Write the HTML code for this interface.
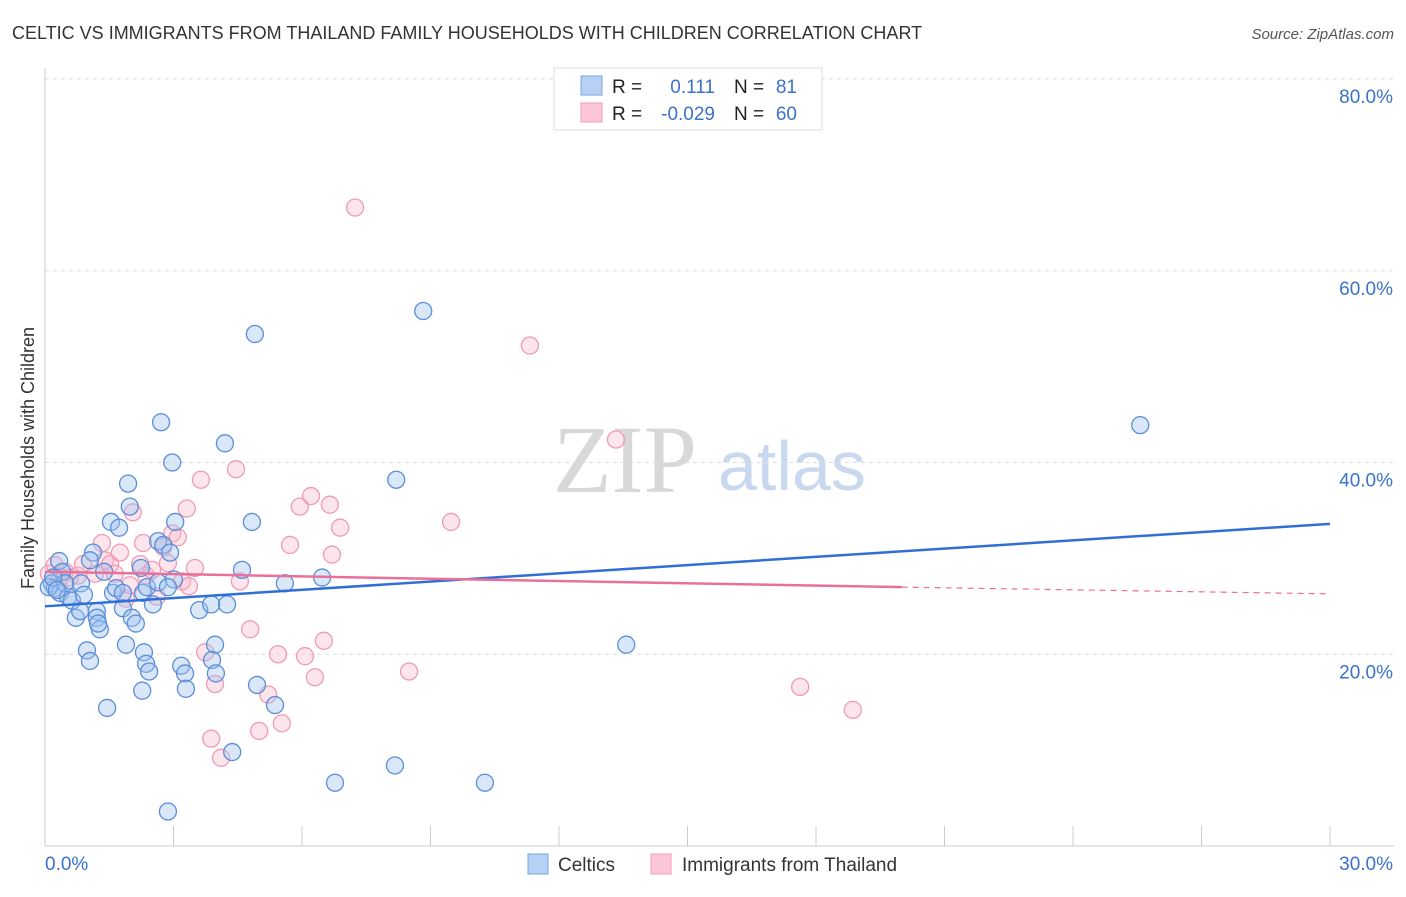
<!DOCTYPE html>
<html><head><meta charset="utf-8"><style>
body{margin:0;background:#fff;font-family:"Liberation Sans",sans-serif}
svg text{font-family:"Liberation Sans",sans-serif}
</style></head><body>
<svg id="chart" width="1406" height="892" xmlns="http://www.w3.org/2000/svg">
<text x="12" y="39" font-size="18" fill="#333">CELTIC VS IMMIGRANTS FROM THAILAND FAMILY HOUSEHOLDS WITH CHILDREN CORRELATION CHART</text>
<text x="1394" y="39" font-size="15" fill="#555" font-style="italic" text-anchor="end">Source: ZipAtlas.com</text>
<text x="34" y="458" font-size="18" fill="#333" transform="rotate(-90 34 458)" text-anchor="middle">Family Households with Children</text>
<g>
<text x="553" y="492" font-size="96" fill="#d8d8d8" font-family="Liberation Serif" style="font-family:'Liberation Serif',serif">ZIP</text>
<text x="718" y="490" font-size="70" fill="#c8d8ee">atlas</text>
</g>
<g id="grid"></g>
<g id="marks"></g>
<g>
<rect x="554" y="68" width="268" height="62" fill="#fff" stroke="#ddd"/>
<rect x="581" y="76" width="21" height="19" fill="#b7d0f4" stroke="#7aa6e6"/>
<rect x="581" y="103" width="21" height="19" fill="#fcc8d8" stroke="#f29bb8"/>
<text x="612" y="93" font-size="19" fill="#222">R =</text>
<text x="715" y="93" font-size="19" fill="#3a72cc" text-anchor="end">0.111</text>
<text x="734" y="93" font-size="19" fill="#222">N =</text>
<text x="797" y="93" font-size="19" fill="#3a72cc" text-anchor="end">81</text>
<text x="612" y="120" font-size="19" fill="#222">R =</text>
<text x="715" y="120" font-size="19" fill="#3a72cc" text-anchor="end">-0.029</text>
<text x="734" y="120" font-size="19" fill="#222">N =</text>
<text x="797" y="120" font-size="19" fill="#3a72cc" text-anchor="end">60</text>
</g>
<g>
<rect x="528" y="854" width="20" height="20" fill="#b7d0f4" stroke="#7aa6e6"/>
<text x="558" y="871" font-size="19" fill="#333">Celtics</text>
<rect x="651" y="854" width="20" height="20" fill="#fcc8d8" stroke="#f29bb8"/>
<text x="682" y="871" font-size="19" fill="#333">Immigrants from Thailand</text>
</g>
</svg>
<script>
const blueX=[.33,.40,.16,.23,.35,.54,.63,.47,.84,.91,.72,.82,1.12,1.05,.98,1.05,1.21,1.21,1.28,1.24,1.38,1.45,1.54,1.73,1.59,1.66,1.82,1.82,1.89,1.94,1.98,2.03,2.12,2.24,2.29,2.27,2.31,2.36,2.43,2.38,2.52,2.64,2.64,2.71,2.76,2.97,2.92,3.04,3.01,2.87,2.87,3.18,3.27,3.29,3.6,3.88,3.97,3.9,3.99,4.25,4.2,4.37,4.6,4.83,4.9,4.95,5.37,5.6,6.47,6.77,8.17,8.2,8.83,10.27,13.57,25.57,.09,.19,.28];
const blueY=[29.72,28.58,27.4,26.9,26.4,26.0,25.6,27.4,27.4,26.2,23.8,24.5,30.6,29.8,20.4,19.3,24.5,23.8,22.6,23.2,28.6,14.4,33.8,33.2,26.4,26.9,26.4,24.8,21.0,37.8,35.4,23.8,23.2,29.0,26.4,16.2,20.2,19.0,18.2,27.0,25.2,27.5,31.8,44.2,31.4,40.0,30.6,33.8,27.8,27.0,3.6,18.8,18.0,16.4,24.6,25.2,21.0,19.4,18.0,25.2,42.0,9.8,28.8,33.8,53.4,16.8,14.7,27.4,28.0,6.6,8.4,38.2,55.8,6.6,21.0,43.9,27.0,28.0,26.7];
const pinkX=[.09,.23,.35,.47,.58,.77,.89,1.17,1.33,1.4,1.52,1.63,1.75,1.89,1.98,2.05,2.22,2.29,2.36,2.5,2.61,2.76,2.87,2.97,3.1,3.2,3.31,3.36,3.5,3.64,3.74,3.88,3.97,4.11,4.46,4.55,4.79,5.0,5.21,5.44,5.53,5.72,5.95,6.07,6.21,6.3,6.51,6.65,6.7,6.89,7.24,8.5,9.48,11.32,13.33,17.63,18.86];
const pinkY=[28.4,29.3,28.0,28.6,28.0,28.2,29.4,28.4,31.6,29.8,29.4,28.4,30.6,25.8,27.2,34.8,29.4,31.6,28.2,28.8,26.0,31.2,29.5,32.6,32.2,27.6,35.2,27.1,29.0,38.2,20.2,11.2,16.9,9.2,39.3,27.6,22.6,12.0,15.8,20.0,12.8,31.4,35.4,19.8,36.5,17.6,21.4,35.6,30.4,33.2,66.6,18.2,33.8,52.2,42.4,16.6,14.2];
const blueTrend=[25.0,33.6];
const pinkTrend=[28.6,27.0,26.3];
const yTicks=[20,40,60,80];
const xTickLabels=["0.0%","30.0%"];
const X0=45,X1=1330,Y0=846,PX=(X1-X0)/30,PY=(846-79)/80;
const sx=v=>X0+v*PX, sy=v=>Y0-v*PY;
const NS="http://www.w3.org/2000/svg";
function mk(t,a,p){const e=document.createElementNS(NS,t);for(const k in a)e.setAttribute(k,a[k]);p.appendChild(e);return e;}
const g=document.getElementById('grid'),m=document.getElementById('marks');
yTicks.forEach(t=>{
 const l=mk('line',{x1:X0,x2:1394,y1:sy(t),y2:sy(t),stroke:'#ddd','stroke-dasharray':'4,4'},g);
 
 
 const tx=mk('text',{x:1393,y:sy(t)+24,'font-size':19,fill:'#3a72cc','text-anchor':'end'},g);tx.textContent=t.toFixed(1)+'%';
 
 
});
const ax=mk('line',{x1:X0,x2:1394,y1:Y0,y2:Y0,stroke:'#ccc'},g);


const ay=mk('line',{x1:X0,x2:X0,y1:68,y2:Y0,stroke:'#ccc'},g);


for(let i=0;i<=10;i++){const t=mk('line',{x1:sx(i*3),x2:sx(i*3),y1:Y0-20,y2:Y0,stroke:'#ccc'},g);
 
 }
const xl0=mk('text',{x:45,y:870,'font-size':19,fill:'#3a72cc'},g);xl0.textContent=xTickLabels[0];


const xl1=mk('text',{x:1393,y:870,'font-size':19,fill:'#3a72cc','text-anchor':'end'},g);xl1.textContent=xTickLabels[1];


pinkX.forEach((x,i)=>{const c=mk('circle',{cx:sx(x),cy:sy(pinkY[i]),r:8.5,fill:'rgba(248,180,200,0.35)',stroke:'#f09ab6','stroke-width':1.3},m);
 
 });
blueX.forEach((x,i)=>{const c=mk('circle',{cx:sx(x),cy:sy(blueY[i]),r:8.5,fill:'rgba(160,195,240,0.4)',stroke:'#5a8ed8','stroke-width':1.3},m);
 
 });
const bl=mk('line',{x1:sx(0),y1:sy(blueTrend[0]),x2:sx(30),y2:sy(blueTrend[1]),stroke:'#2f6fd6','stroke-width':2.5},m);


const pl=mk('line',{x1:sx(0),y1:sy(pinkTrend[0]),x2:sx(20),y2:sy(pinkTrend[1]),stroke:'#e8709a','stroke-width':2.5},m);


const pd=mk('line',{x1:sx(20),y1:sy(pinkTrend[1]),x2:sx(30),y2:sy(pinkTrend[2]),stroke:'#e8709a','stroke-width':1.2,'stroke-dasharray':'6,5'},m);


</script>
</body></html>
